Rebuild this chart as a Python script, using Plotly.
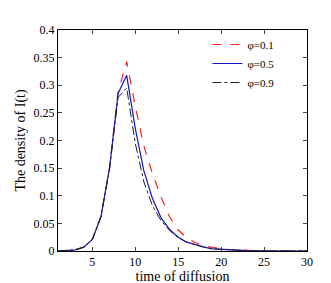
import plotly.graph_objects as go

t = list(range(1, 31))
phi_01 = [0, 0.0005, 0.002, 0.007, 0.021, 0.062, 0.15, 0.288, 0.343, 0.262, 0.19, 0.14, 0.098, 0.062,
          0.038, 0.024, 0.015, 0.009, 0.006, 0.004, 0.0025, 0.0015, 0.001, 0.0006, 0.0004, 0.0002,
          0.0001, 0.0001, 0, 0]
phi_05 = [0, 0.0005, 0.002, 0.007, 0.021, 0.062, 0.15, 0.285, 0.318, 0.222, 0.145, 0.095, 0.06, 0.039,
          0.025, 0.016, 0.011, 0.007, 0.004, 0.003, 0.002, 0.001, 0.0007, 0.0004, 0.0002, 0.0001,
          0.0001, 0, 0, 0]
phi_09 = [0, 0.0005, 0.002, 0.007, 0.021, 0.062, 0.148, 0.278, 0.295, 0.195, 0.125, 0.082, 0.055, 0.037,
          0.024, 0.016, 0.011, 0.007, 0.004, 0.003, 0.002, 0.001, 0.0007, 0.0004, 0.0002, 0.0001,
          0.0001, 0, 0, 0]
x_ticks = [5, 10, 15, 20, 25, 30]
y_ticks = [0, 0.05, 0.1, 0.15, 0.2, 0.25, 0.3, 0.35, 0.4]
y_tick_text = ["0", "0.05", "0.1", "0.15", "0.2", "0.25", "0.3", "0.35", "0.4"]

fig = go.Figure()
fig.add_trace(go.Scatter(x=t, y=phi_01, mode="lines", name="φ=0.1",
                         line=dict(color="#ff2020", width=1.2, dash="dash")))
fig.add_trace(go.Scatter(x=t, y=phi_05, mode="lines", name="φ=0.5",
                         line=dict(color="#1515c8", width=1.2)))
fig.add_trace(go.Scatter(x=t, y=phi_09, mode="lines", name="φ=0.9",
                         line=dict(color="#202020", width=1.0, dash="dashdot")))

font = dict(family="Liberation Serif, Times New Roman, serif", color="black")
fig.update_layout(
    width=331, height=283,
    margin=dict(l=44, r=32, t=22, b=31),
    paper_bgcolor="white", plot_bgcolor="white",
    font=dict(size=12, **font),
    showlegend=True,
    legend=dict(x=0.6, y=1.0, xanchor="left", yanchor="top",
                bgcolor="rgba(0,0,0,0)", font=dict(size=11, **font),
                tracegroupgap=0, itemwidth=30),
    xaxis=dict(range=[1, 30], tickvals=x_ticks, ticks="inside", ticklen=4,
               showline=True, linecolor="black", linewidth=1, mirror="ticks",
               showgrid=False, zeroline=False,
               title=dict(text="time of diffusion", standoff=0, font=dict(size=14, **font))),
    yaxis=dict(range=[0, 0.4], tickvals=y_ticks, ticktext=y_tick_text, ticks="inside", ticklen=4,
               showline=True, linecolor="black", linewidth=1, mirror="ticks",
               showgrid=False, zeroline=False,
               title=dict(text="The density of I(t)", standoff=4, font=dict(size=14, **font))),
)
fig.write_html("out.html")
